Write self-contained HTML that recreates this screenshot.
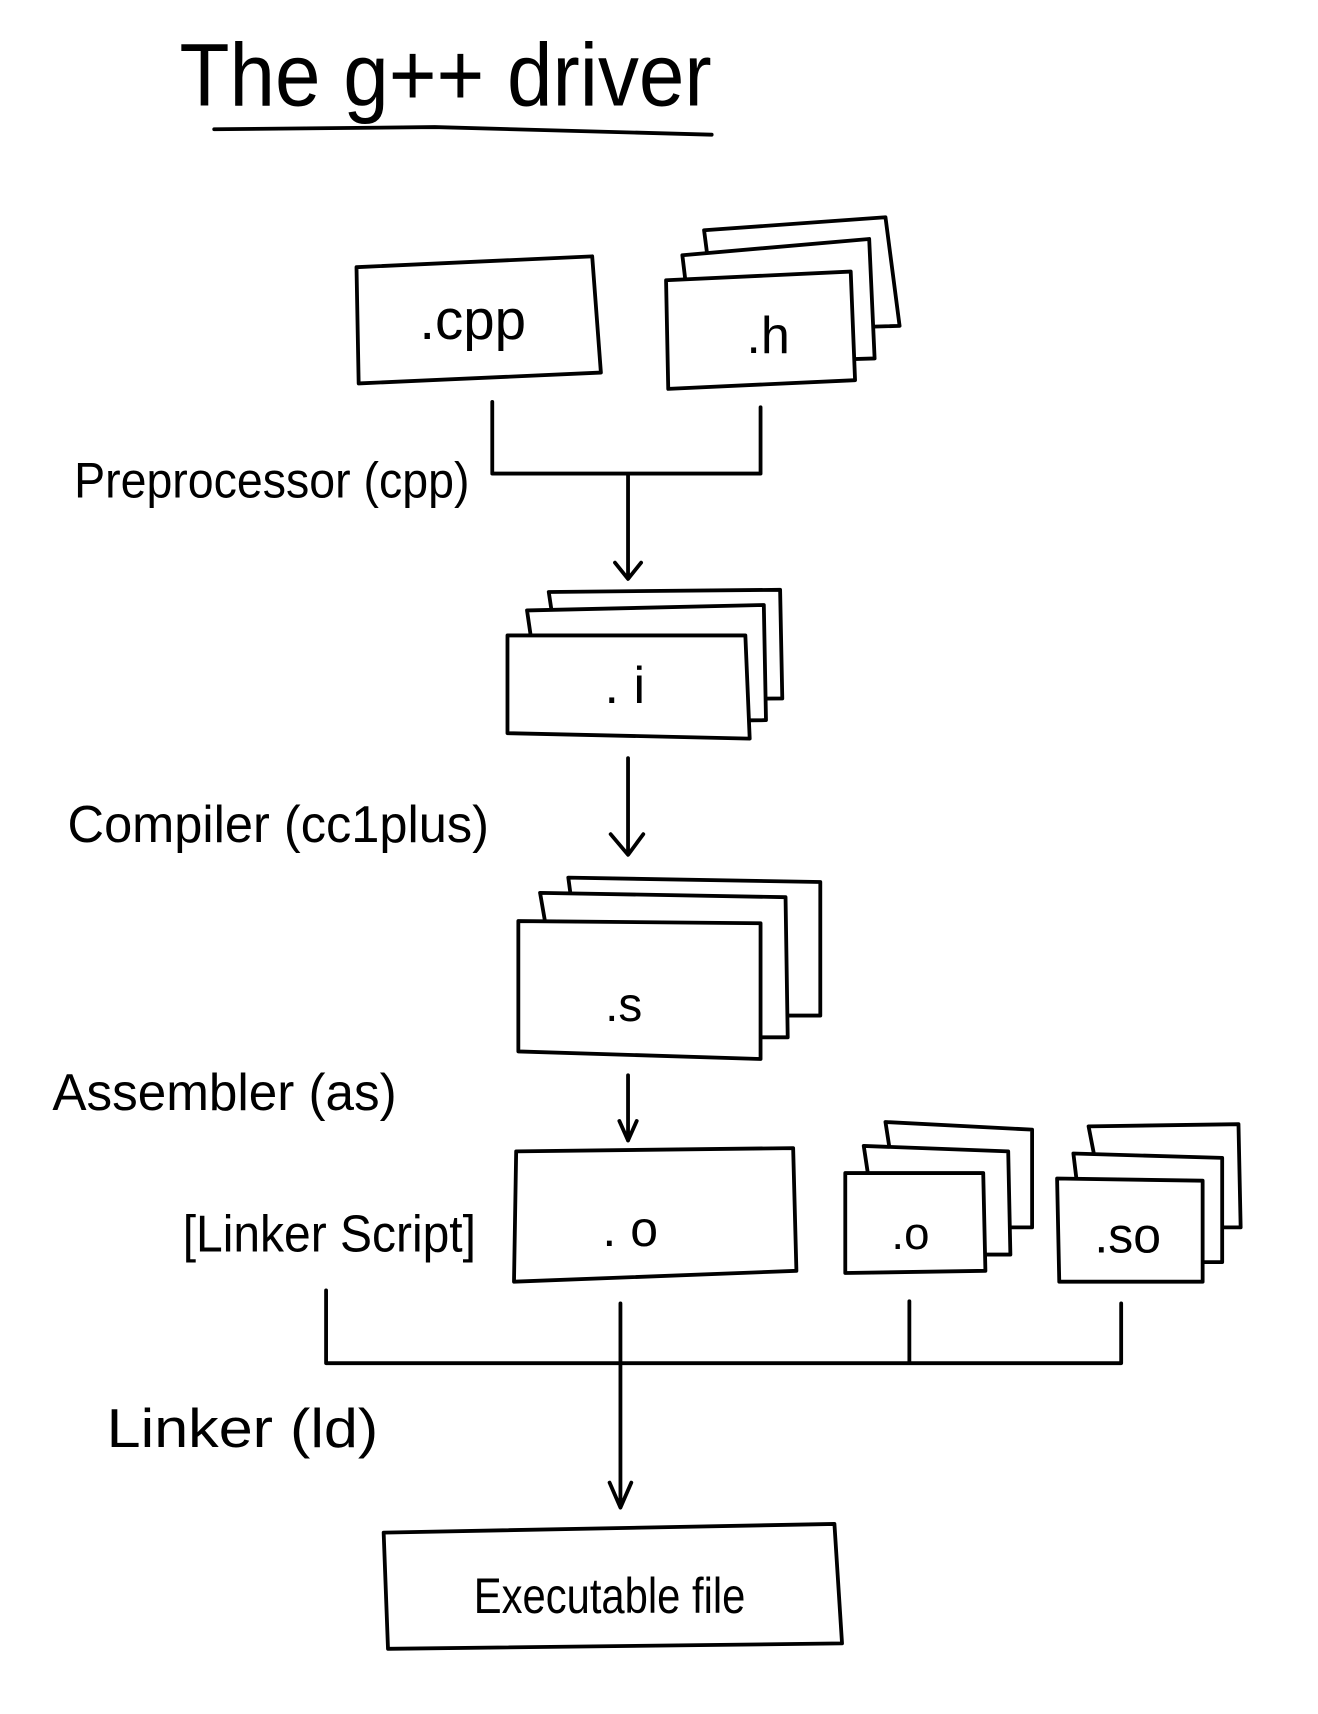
<!DOCTYPE html>
<html><head><meta charset="utf-8"><style>
html,body{margin:0;padding:0;background:#fff;}
svg{display:block;}
text{font-family:"Liberation Sans Narrow","Liberation Sans",sans-serif;fill:#000;}
</style></head><body>
<svg width="1318" height="1714" viewBox="0 0 1213 1578" xmlns="http://www.w3.org/2000/svg">
<g fill="#fff" stroke="#000" stroke-width="3.5" stroke-linecap="round" stroke-linejoin="round">
<!-- title -->
<text x="165" y="97" font-size="82" textLength="490" lengthAdjust="spacingAndGlyphs" stroke="none" fill="#000">The  g++ driver</text>
<path d="M197 119 L400 117 L655 124" fill="none"/>
<!-- .cpp -->
<path d="M328 246 L545 236 L553 343 L330 353 Z"/>
<!-- .h stack -->
<path d="M648 212 L815 200 L828 300 L660 305 Z"/>
<path d="M628 235 L800 220 L805 330 L640 335 Z"/>
<path d="M613 258 L783 250 L787 350 L615 358 Z"/>
<!-- connector cpp/h -->
<path d="M453 370 L453 436 L700 436 L700 375 M578 436 L578 532 M566 518 L578 533 L590 518" fill="none"/>
<!-- .i stack -->
<path d="M505 545 L718 543 L720 643 L520 645 Z"/>
<path d="M485 562 L703 557 L705 663 L500 665 Z"/>
<path d="M467 585 L686 585 L690 680 L467 675 Z"/>
<path d="M578 698 L578 785 M562 768 L578 787 L592 768" fill="none"/>
<!-- .s stack -->
<path d="M523 808 L755 812 L755 935 L540 935 Z"/>
<path d="M497 822 L723 826 L725 955 L520 955 Z"/>
<path d="M477 848 L700 850 L700 975 L477 968 Z"/>
<path d="M578 990 L578 1048 M570 1032 L578 1050 M586 1032 L578 1050" fill="none"/>
<!-- .o big -->
<path d="M475 1060 L730 1057 L733 1170 L473 1180 Z"/>
<!-- .o stack -->
<path d="M815 1033 L950 1040 L950 1130 L830 1130 Z"/>
<path d="M795 1055 L928 1060 L930 1155 L810 1155 Z"/>
<path d="M778 1080 L905 1080 L907 1170 L778 1172 Z"/>
<!-- .so stack -->
<path d="M1002 1037 L1140 1035 L1142 1130 L1020 1130 Z"/>
<path d="M988 1062 L1125 1066 L1125 1162 L1000 1162 Z"/>
<path d="M973 1085 L1107 1087 L1107 1180 L975 1180 Z"/>
<!-- bus -->
<path d="M300 1188 L300 1255 L1032 1255 L1032 1200 M837 1198 L837 1255 M571 1200 L571 1385 M561 1365 L571 1388 L581 1365" fill="none"/>
<!-- executable -->
<path d="M353 1411 L768 1403 L775 1513 L357 1518 Z"/>
</g>
<g stroke="none" fill="#000">
<text x="435" y="312" font-size="52" text-anchor="middle">.cpp</text>
<text x="707" y="325" font-size="48" text-anchor="middle">.h</text>
<text x="575" y="647" font-size="48" text-anchor="middle">. i</text>
<text x="574" y="940" font-size="44" text-anchor="middle">.s</text>
<text x="580" y="1147" font-size="46" text-anchor="middle">. o</text>
<text x="838" y="1150" font-size="42" text-anchor="middle">.o</text>
<text x="1038" y="1153" font-size="46" text-anchor="middle">.so</text>
<text x="436" y="1485" font-size="46" textLength="250" lengthAdjust="spacingAndGlyphs">Executable  file</text>
<text x="68" y="458" font-size="46" textLength="364" lengthAdjust="spacingAndGlyphs">Preprocessor (cpp)</text>
<text x="62" y="775" font-size="48" textLength="388" lengthAdjust="spacingAndGlyphs">Compiler (cc1plus)</text>
<text x="48" y="1022" font-size="48" textLength="317" lengthAdjust="spacingAndGlyphs">Assembler  (as)</text>
<text x="168" y="1152" font-size="48" textLength="270" lengthAdjust="spacingAndGlyphs">[Linker Script]</text>
<text x="98" y="1332" font-size="50" textLength="250" lengthAdjust="spacingAndGlyphs">Linker (ld)</text>
</g>
</svg>
</body></html>
